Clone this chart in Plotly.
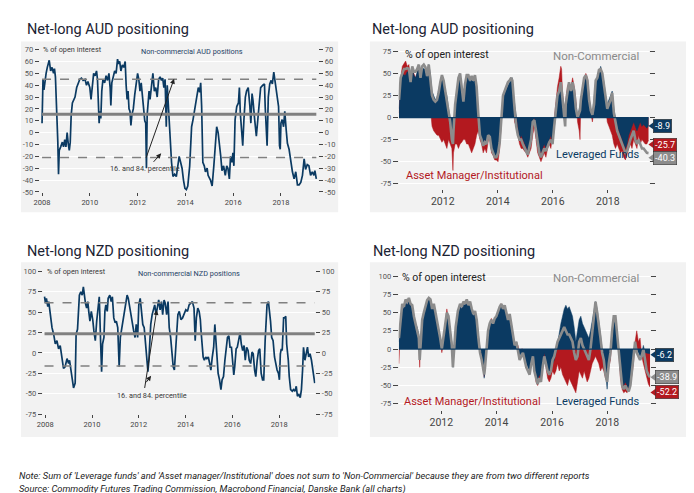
import plotly.graph_objects as go

# ---------------- DATA ----------------
# Top-left: Non-commercial AUD positions (% of open interest)
aud_nc_years = [2008.00, 2008.04, 2008.08, 2008.12, 2008.17, 2008.22, 2008.30, 2008.36, 2008.42, 2008.48,
                2008.52, 2008.56, 2008.60, 2008.63, 2008.66, 2008.69, 2008.72, 2008.78, 2008.85, 2008.90,
                2008.95, 2009.00, 2009.05, 2009.10, 2009.14, 2009.18, 2009.22, 2009.27, 2009.32, 2009.38,
                2009.45, 2009.52, 2009.58, 2009.65, 2009.72, 2009.80, 2009.86, 2009.92, 2010.00, 2010.05,
                2010.10, 2010.16, 2010.22, 2010.28, 2010.32, 2010.36, 2010.39, 2010.42, 2010.46, 2010.50,
                2010.55, 2010.62, 2010.68, 2010.74, 2010.80, 2010.85, 2010.88, 2010.92, 2010.98, 2011.04,
                2011.10, 2011.16, 2011.20, 2011.25, 2011.30, 2011.36, 2011.42, 2011.48, 2011.52, 2011.56,
                2011.60, 2011.64, 2011.68, 2011.72, 2011.76, 2011.82, 2011.88, 2011.94, 2012.00, 2012.05,
                2012.10, 2012.15, 2012.20, 2012.25, 2012.30, 2012.34, 2012.37, 2012.40, 2012.44, 2012.48,
                2012.52, 2012.58, 2012.64, 2012.70, 2012.76, 2012.82, 2012.88, 2012.94, 2013.00, 2013.05,
                2013.10, 2013.15, 2013.20, 2013.24, 2013.30, 2013.36, 2013.42, 2013.48, 2013.55, 2013.62,
                2013.68, 2013.74, 2013.80, 2013.86, 2013.92, 2013.98, 2014.04, 2014.10, 2014.18, 2014.22,
                2014.26, 2014.32, 2014.37, 2014.43, 2014.49, 2014.54, 2014.60, 2014.64, 2014.68, 2014.73,
                2014.79, 2014.84, 2014.91, 2014.95, 2015.05, 2015.12, 2015.19, 2015.26, 2015.31, 2015.37,
                2015.42, 2015.48, 2015.53, 2015.60, 2015.67, 2015.73, 2015.78, 2015.84, 2015.89, 2015.95,
                2015.99, 2016.03, 2016.08, 2016.15, 2016.22, 2016.26, 2016.30, 2016.36, 2016.40, 2016.45,
                2016.51, 2016.56, 2016.63, 2016.70, 2016.74, 2016.79, 2016.83, 2016.90, 2016.97, 2017.04,
                2017.11, 2017.15, 2017.24, 2017.31, 2017.34, 2017.38, 2017.42, 2017.47, 2017.53, 2017.59,
                2017.64, 2017.70, 2017.75, 2017.81, 2017.86, 2017.90, 2017.94, 2017.97, 2018.00, 2018.05,
                2018.11, 2018.16, 2018.22, 2018.27, 2018.34, 2018.41, 2018.48, 2018.55, 2018.62, 2018.69,
                2018.76, 2018.83, 2018.90, 2018.97, 2019.03, 2019.10, 2019.17, 2019.24, 2019.31, 2019.38,
                2019.42, 2019.48]
aud_nc_values = [8, 45, 36, 45, 50, 55, 61, 52, 55, 50,
                 54, 47, 30, 10, -8, -35, -15, -12, -8, -12,
                 -6, -12, 0, -10, -15, -8, 15, 25, 28, 30,
                 38, 42, 45, 46, 44, 45, 40, 43, 38, 28,
                 40, 50, 48, 52, 45, 20, 8, 18, 12, 35,
                 45, 42, 48, 44, 50, 38, 23, 42, 48, 52,
                 50, 62, 58, 60, 52, 57, 55, 60, 40, 28,
                 35, 20, 18, 6, 15, 20, 32, 44, 50, 45,
                 35, 42, 30, 18, 10, 8, -30, 15, 25, 35,
                 28, 42, 50, 35, 38, 30, 45, 47, 44, 46,
                 38, 45, 5, 40, 20, -10, -25, -37, -35, -37,
                 -30, -20, -25, -30, -40, -47, -48, -45, -28, -11,
                 5, 11, 18, 27, 35, 38, 34, 42, 22, -25,
                 -28, -33, -30, -36, -40, -45, -28, -9, 5, 0,
                 -8, -20, -32, -28, -36, -28, -30, -39, -20, -25,
                 -17, -28, 11, 22, 25, 38, 16, -3, -11, 11,
                 30, 35, 38, 22, 8, 33, 27, 11, -3, 13,
                 27, 38, 40, 41, 22, 8, -11, 30, 41, 44,
                 41, 51, 44, 36, 29, 22, -11, -14, 8, 11,
                 5, 18, 2, -9, -14, -25, -33, -39, -33, -44,
                 -44, -42, -36, -22, -31, -27, -28, -36, -33, -36,
                 -32, -39]
aud_mean, aud_p84, aud_p16 = 15.5, 45, -21

# Bottom-left: Non-commercial NZD positions (% of open interest)
nzd_nc_years = [2007.97, 2008.01, 2008.05, 2008.11, 2008.15, 2008.22, 2008.29, 2008.36, 2008.43, 2008.50,
                2008.57, 2008.64, 2008.71, 2008.78, 2008.85, 2008.93, 2009.00, 2009.04, 2009.10, 2009.15,
                2009.21, 2009.28, 2009.32, 2009.38, 2009.42, 2009.46, 2009.52, 2009.58, 2009.63, 2009.67,
                2009.72, 2009.77, 2009.82, 2009.86, 2009.91, 2009.97, 2010.03, 2010.08, 2010.14, 2010.20,
                2010.25, 2010.31, 2010.37, 2010.41, 2010.45, 2010.51, 2010.55, 2010.59, 2010.65, 2010.69,
                2010.76, 2010.82, 2010.87, 2010.93, 2010.99, 2011.04, 2011.10, 2011.16, 2011.21, 2011.27,
                2011.33, 2011.38, 2011.44, 2011.50, 2011.55, 2011.61, 2011.67, 2011.72, 2011.78, 2011.84,
                2011.89, 2011.95, 2012.00, 2012.06, 2012.12, 2012.17, 2012.23, 2012.29, 2012.34, 2012.39,
                2012.43, 2012.47, 2012.51, 2012.57, 2012.63, 2012.68, 2012.74, 2012.80, 2012.85, 2012.91,
                2012.97, 2013.02, 2013.08, 2013.13, 2013.19, 2013.25, 2013.30, 2013.36, 2013.42, 2013.47,
                2013.52, 2013.56, 2013.61, 2013.67, 2013.73, 2013.80, 2013.87, 2013.94, 2014.01, 2014.08,
                2014.15, 2014.22, 2014.29, 2014.36, 2014.41, 2014.46, 2014.52, 2014.58, 2014.63, 2014.66,
                2014.69, 2014.75, 2014.80, 2014.86, 2014.91, 2014.97, 2015.03, 2015.08, 2015.14, 2015.20,
                2015.25, 2015.30, 2015.34, 2015.39, 2015.45, 2015.51, 2015.56, 2015.62, 2015.68, 2015.73,
                2015.79, 2015.85, 2015.90, 2015.96, 2016.02, 2016.06, 2016.10, 2016.16, 2016.21, 2016.27,
                2016.33, 2016.38, 2016.44, 2016.50, 2016.55, 2016.61, 2016.67, 2016.72, 2016.78, 2016.84,
                2016.89, 2016.95, 2017.00, 2017.06, 2017.12, 2017.17, 2017.23, 2017.29, 2017.34, 2017.40,
                2017.44, 2017.48, 2017.54, 2017.58, 2017.63, 2017.68, 2017.74, 2017.80, 2017.85, 2017.91,
                2017.97, 2018.01, 2018.05, 2018.09, 2018.13, 2018.19, 2018.23, 2018.28, 2018.32, 2018.36,
                2018.39, 2018.43, 2018.49, 2018.56, 2018.61, 2018.67, 2018.73, 2018.78, 2018.84, 2018.90,
                2018.95, 2019.00, 2019.04, 2019.10, 2019.15, 2019.21, 2019.26, 2019.32, 2019.38, 2019.42,
                2019.46, 2019.52]
nzd_nc_values = [69, 61, 67, 57, 63, 47, 31, 23, 11, 15,
                 5, 9, -9, -19, -17, -7, -13, -9, -21, -29,
                 -43, -37, 23, 29, 47, 71, 75, 71, 81, 71,
                 61, 55, 63, 51, 39, 51, 41, 27, 15, 39,
                 57, 69, 11, -23, 11, 19, 51, 59, 51, 67,
                 71, 63, 69, 43, 37, 39, 31, -17, 19, 31,
                 43, 51, 63, 71, 67, 55, 43, 37, 27, 19,
                 35, 19, 59, 67, 51, 35, 31, 11, -1, -23,
                 -9, 19, 35, 47, 55, 59, 47, 59, 65, 53,
                 63, 47, 65, 61, 47, 63, 31, 19, -1, -17,
                 -21, -5, 15, 47, 51, 41, 43, 47, 53, 51,
                 59, 61, 63, 55, 15, 43, 55, 51, 41, 27,
                 11, -5, -9, -5, -7, -5, -13, -21, -5, 7,
                 35, 15, -9, -25, -33, -45, -33, -29, -9, 7,
                 19, 21, 7, 7, -9, -27, -17, 5, 7, 19,
                 25, 11, 3, 9, -9, 7, 3, -9, -13, 1,
                 -1, -21, -29, -9, 3, 5, -25, -33, -33, 15,
                 43, 59, 63, 55, 39, 19, 15, -5, -13, -21,
                 -25, -33, -1, 5, 3, 43, 43, 45, 11, 3,
                 -9, -29, -45, -47, -45, -47, -41, -53, -51, -55,
                 -45, -21, 7, -9, -1, 7, -5, -1, -9, -21,
                 -25, -37]
nzd_mean, nzd_p84, nzd_p16 = 23.5, 61.5, -16

# Top-right: AUD by trader type (% of open interest)
aud_tff_years = [2010.41, 2010.47, 2010.53, 2010.59, 2010.65, 2010.71, 2010.77, 2010.83, 2010.89, 2010.95,
                 2011.01, 2011.07, 2011.13, 2011.19, 2011.25, 2011.31, 2011.37, 2011.43, 2011.49, 2011.55,
                 2011.61, 2011.67, 2011.73, 2011.79, 2011.85, 2011.91, 2011.97, 2012.03, 2012.09, 2012.15,
                 2012.21, 2012.27, 2012.33, 2012.37, 2012.39, 2012.45, 2012.51, 2012.57, 2012.63, 2012.69,
                 2012.75, 2012.81, 2012.87, 2012.93, 2012.99, 2013.05, 2013.11, 2013.17, 2013.23, 2013.29,
                 2013.35, 2013.41, 2013.47, 2013.53, 2013.59, 2013.65, 2013.71, 2013.77, 2013.83, 2013.89,
                 2013.95, 2014.01, 2014.07, 2014.13, 2014.19, 2014.25, 2014.31, 2014.37, 2014.43, 2014.49,
                 2014.53, 2014.55, 2014.61, 2014.67, 2014.73, 2014.79, 2014.85, 2014.91, 2014.97, 2015.03,
                 2015.09, 2015.15, 2015.21, 2015.27, 2015.33, 2015.39, 2015.45, 2015.51, 2015.57, 2015.63,
                 2015.69, 2015.75, 2015.81, 2015.87, 2015.93, 2015.99, 2016.05, 2016.11, 2016.17, 2016.23,
                 2016.29, 2016.32, 2016.35, 2016.41, 2016.45, 2016.47, 2016.53, 2016.59, 2016.66, 2016.72,
                 2016.78, 2016.84, 2016.90, 2016.96, 2016.99, 2017.02, 2017.08, 2017.14, 2017.20, 2017.26,
                 2017.32, 2017.38, 2017.44, 2017.50, 2017.56, 2017.62, 2017.68, 2017.74, 2017.80, 2017.86,
                 2017.92, 2017.98, 2018.04, 2018.10, 2018.16, 2018.22, 2018.28, 2018.34, 2018.40, 2018.46,
                 2018.52, 2018.58, 2018.64, 2018.70, 2018.76, 2018.82, 2018.88, 2018.94, 2019.00, 2019.06,
                 2019.12, 2019.18, 2019.24, 2019.30, 2019.36, 2019.42, 2019.48]
aud_lev = [10, 40, 50, 48, 48, 52, 50, 40, 55, 48,
           45, 52, 58, 50, 58, 55, 55, 45, 60, 50,
           30, 25, 20, 23, 30, 40, 48, 42, 30, 25,
           10, 0, -20, -25, -10, 15, 30, 40, 48, 35,
           20, 35, 45, 48, 40, 45, 40, 45, 30, 5,
           -20, -25, -30, -25, -30, -20, -22, -35, -40, -45,
           -45, -40, -30, 0, 20, 28, 32, 35, 40, 42,
           45, 30, 15, 0, -15, -25, -20, -25, -28, -35,
           -38, -30, -20, -5, 0, -10, -25, -35, -40, -35,
           -30, -35, -30, -25, -20, -30, -10, 5, 20, 30,
           35, 30, 25, 10, -5, 15, 25, 35, 30, 35,
           30, 15, 0, 10, 12, 20, 30, 40, 45, 40,
           20, 10, 5, 20, 40, 45, 50, 58, 50, 40,
           25, 15, 20, 25, 30, 10, 0, -10, -15, -20,
           -25, -30, -35, -30, -20, -15, -10, -5, -10, -15,
           -10, -5, -10, -8, -10, -12, -8.9]
aud_am = [5, 45, 58, 62, 64, 58, 60, 42, 55, 50,
          45, 50, 56, 48, 55, 52, 50, 40, 30, 10,
          -10, -15, -18, -20, -20, -25, -28, -25, -30, -35,
          -25, -30, -35, -60, -40, -30, -30, -35, -30, -28,
          -25, -25, -30, -30, -35, -40, -35, -30, -20, -15,
          -25, -30, -40, -35, -40, -25, -15, -40, -43, -48,
          -48, -50, -35, -5, 18, 28, 30, 35, 38, 40,
          38, 28, -5, -10, -20, -30, -35, -35, -38, -40,
          -45, -40, -35, -20, -10, -25, -40, -45, -50, -45,
          -40, -45, -35, -30, -35, -20, 0, 20, 35, 45,
          58, 55, 30, 10, -5, 20, 35, 40, 35, 45,
          35, 20, -5, -15, -25, 15, 35, 40, 50, 45,
          25, 5, -5, 10, 40, 42, 45, 50, 45, 30,
          10, -5, -10, -15, -20, -30, -35, -30, -35, -40,
          -38, -45, -48, -40, -35, -30, -35, -25, -30, -35,
          -20, -30, -25, -28, -30, -30, -25.7]
aud_nc2 = [20, 45, 50, 55, 55, 56, 55, 40, 58, 52,
           52, 55, 60, 45, 58, 60, 57, 47, 60, 45,
           25, 20, 18, 20, 28, 40, 48, 42, 30, 22,
           8, -5, -25, -30, -15, 15, 30, 45, 50, 30,
           18, 38, 48, 48, 42, 47, 42, 48, 35, 5,
           -20, -25, -32, -28, -30, -20, -22, -35, -40, -45,
           -45, -40, -28, 0, 25, 30, 35, 40, 42, 45,
           42, 30, 10, -10, -20, -25, -25, -30, -35, -38,
           -42, -35, -25, -5, -3, -15, -30, -40, -45, -40,
           -35, -38, -32, -28, -25, -30, -10, 10, 25, 30,
           40, 32, 20, 5, -10, 15, 28, 40, 30, 40,
           30, 10, 0, 5, 8, 20, 35, 45, 48, 42,
           20, 8, 3, 15, 42, 45, 54, 55, 50, 35,
           20, 10, 15, 20, 28, 5, -5, -15, -20, -25,
           -30, -35, -40, -38, -30, -25, -20, -15, -25, -30,
           -25, -30, -35, -35, -38, -40, -40.3]

# Bottom-right: NZD by trader type (% of open interest)
nzd_tff_years = [2010.47, 2010.53, 2010.59, 2010.65, 2010.71, 2010.77, 2010.83, 2010.89, 2010.95, 2011.01,
                 2011.07, 2011.13, 2011.19, 2011.22, 2011.26, 2011.31, 2011.37, 2011.43, 2011.49, 2011.55,
                 2011.61, 2011.67, 2011.73, 2011.79, 2011.84, 2011.90, 2011.96, 2012.02, 2012.08, 2012.14,
                 2012.20, 2012.26, 2012.32, 2012.38, 2012.42, 2012.47, 2012.52, 2012.60, 2012.68, 2012.74,
                 2012.80, 2012.86, 2012.92, 2012.98, 2013.04, 2013.10, 2013.16, 2013.22, 2013.28, 2013.34,
                 2013.40, 2013.46, 2013.52, 2013.55, 2013.58, 2013.63, 2013.69, 2013.75, 2013.81, 2013.87,
                 2013.93, 2013.99, 2014.05, 2014.11, 2014.17, 2014.23, 2014.29, 2014.35, 2014.41, 2014.47,
                 2014.53, 2014.59, 2014.65, 2014.71, 2014.77, 2014.83, 2014.89, 2014.95, 2015.01, 2015.07,
                 2015.13, 2015.19, 2015.25, 2015.31, 2015.36, 2015.42, 2015.48, 2015.54, 2015.60, 2015.66,
                 2015.72, 2015.78, 2015.84, 2015.90, 2015.96, 2016.02, 2016.08, 2016.14, 2016.20, 2016.26,
                 2016.32, 2016.38, 2016.44, 2016.50, 2016.56, 2016.62, 2016.68, 2016.74, 2016.80, 2016.86,
                 2016.92, 2016.98, 2017.04, 2017.10, 2017.16, 2017.22, 2017.27, 2017.33, 2017.39, 2017.45,
                 2017.51, 2017.57, 2017.63, 2017.69, 2017.75, 2017.81, 2017.87, 2017.93, 2017.99, 2018.05,
                 2018.11, 2018.17, 2018.23, 2018.29, 2018.35, 2018.41, 2018.47, 2018.53, 2018.59, 2018.65,
                 2018.71, 2018.77, 2018.83, 2018.89, 2018.94, 2019.00, 2019.06, 2019.12, 2019.18, 2019.24,
                 2019.30, 2019.36, 2019.42, 2019.48, 2019.54]
nzd_lev = [10, 40, 60, 55, 65, 60, 68, 60, 55, 45,
           35, 30, 20, -5, 10, 40, 50, 55, 65, 68,
           65, 55, 60, 50, 40, 30, 15, 2, 10, 30,
           45, 40, 25, 10, -25, 0, 30, 50, 60, 55,
           62, 60, 65, 60, 62, 55, 45, 50, 40, 20,
           0, -10, -25, -40, -20, 0, 20, 30, 40, 35,
           40, 45, 50, 55, 60, 55, 58, 50, 40, 45,
           35, 20, 5, 10, 0, -10, -5, -10, -15, -20,
           -25, -30, -20, -10, -30, -40, -45, -35, -40, -20,
           -5, -15, -30, -35, -30, -20, -15, -5, 10, 20,
           35, 45, 55, 60, 55, 58, 50, 45, 30, 10,
           25, 40, 45, 35, 30, 25, 20, 15, 25, 40,
           55, 65, 55, 40, 20, 0, -10, -30, -55, -20,
           -5, 20, 35, 40, 20, 0, -30, -45, -50, -45,
           -50, -55, -50, -25, -5, 5, 0, -5, -10, -5,
           5, -5, -5, -6, -6.2]
nzd_am = [-20, 38, 58, 52, 62, 60, 66, 58, 52, 45,
          30, 25, 15, -25, 8, 42, 48, 55, 62, 66,
          64, 52, 58, 48, 38, 28, 12, -5, 8, 28,
          55, 42, 22, 8, -22, -2, 28, 48, 58, 54,
          60, 58, 68, 58, 60, 52, 44, 48, 38, 18,
          -3, -12, -28, -38, -22, 2, 22, 32, 42, 33,
          38, 44, 52, 54, 62, 54, 56, 48, 42, 44,
          34, 18, 4, 8, 5, -5, 0, 0, -5, -5,
          -8, -10, -8, -5, -20, -45, -50, -40, -42, -25,
          -10, -25, -40, -45, -40, -30, -35, -30, -20, -30,
          -25, -35, -40, -45, -50, -40, -45, -50, -55, -60,
          -45, -30, -35, -40, -30, -40, -45, -40, -30, -20,
          -15, -10, -15, -20, -30, -25, -30, -40, -45, -25,
          -15, 15, 30, 35, 15, -5, -40, -55, -60, -58,
          -60, -55, -45, -35, -20, 10, 25, 10, 15, -10,
          -20, -30, -40, -48, -52.2]
nzd_nc2 = [15, 45, 62, 58, 68, 65, 70, 62, 60, 45,
           35, 25, 15, -15, 5, 40, 50, 58, 67, 70,
           68, 55, 62, 50, 40, 30, 15, 0, 15, 35,
           50, 45, 20, 5, -25, 0, 30, 52, 62, 58,
           65, 62, 68, 60, 65, 55, 48, 52, 40, 15,
           -5, -15, -30, -35, -25, 5, 25, 35, 40, 35,
           42, 45, 52, 58, 62, 55, 60, 50, 40, 48,
           35, 20, 5, 10, -5, -15, -10, -5, -15, -25,
           -30, -35, -20, -10, -30, -40, -48, -40, -45, -25,
           -10, -20, -30, -35, -30, -15, -10, 0, 10, 15,
           20, 25, 30, 25, 20, 20, 15, 10, -5, -15,
           -10, 10, 15, 5, 0, -5, -10, -15, 0, 20,
           45, 65, 50, 35, 15, -5, -15, -35, -45, -20,
           -5, 25, 45, 45, 20, 0, -30, -50, -55, -50,
           -55, -58, -50, -30, -10, 10, -5, -10, -15, -10,
           0, -15, -30, -35, -38.9]

left_ticks = [2008, 2010, 2012, 2014, 2016, 2018]
right_ticks = [2012, 2014, 2016, 2018]
tl_y = list(range(-50, 71, 10))
bl_y = list(range(-75, 101, 25))
tr_y = list(range(-75, 76, 25))
br_y = list(range(-75, 101, 25))

# ---------------- STYLE ----------------
W, H = 694, 493
def px(x): return x / W
def py(y): return 1 - y / H

NAVY = '#0b3a62'
RED = '#b3191f'
GRAY = '#8c8c8c'
REFGRAY = '#808080'
BG = '#f2f2f2'
TXT = '#3a3a3a'
TITLE = '#1c2333'
FONT = 'Roboto, Lato, sans-serif'

fig = go.Figure()

# Top-left
fig.add_trace(go.Scatter(x=aud_nc_years, y=aud_nc_values, mode='lines',
                         line=dict(color=NAVY, width=1.7), xaxis='x', yaxis='y', showlegend=False))
x0, x1 = aud_nc_years[0], aud_nc_years[-1]
for val, w, d in [(aud_mean, 3, 'solid'), (aud_p84, 1.5, 'dash'), (aud_p16, 1.5, 'dash')]:
    fig.add_trace(go.Scatter(x=[x0, x1], y=[val, val], mode='lines',
                             line=dict(color=REFGRAY, width=w, dash=d), xaxis='x', yaxis='y5', showlegend=False))

# Bottom-left
fig.add_trace(go.Scatter(x=nzd_nc_years, y=nzd_nc_values, mode='lines',
                         line=dict(color=NAVY, width=1.7), xaxis='x3', yaxis='y3', showlegend=False))
x0, x1 = nzd_nc_years[0], nzd_nc_years[-1]
for val, w, d in [(nzd_mean, 3, 'solid'), (nzd_p84, 1.5, 'dash'), (nzd_p16, 1.5, 'dash')]:
    fig.add_trace(go.Scatter(x=[x0, x1], y=[val, val], mode='lines',
                             line=dict(color=REFGRAY, width=w, dash=d), xaxis='x3', yaxis='y6', showlegend=False))

# Top-right
fig.add_trace(go.Scatter(x=aud_tff_years, y=aud_am, mode='lines', fill='tozeroy', fillcolor=RED,
                         line=dict(color=RED, width=0.5), xaxis='x2', yaxis='y2', showlegend=False))
fig.add_trace(go.Scatter(x=aud_tff_years, y=aud_lev, mode='lines', fill='tozeroy', fillcolor=NAVY,
                         line=dict(color=NAVY, width=0.5), xaxis='x2', yaxis='y2', showlegend=False))
fig.add_trace(go.Scatter(x=aud_tff_years, y=aud_nc2, mode='lines',
                         line=dict(color=GRAY, width=2.6), xaxis='x2', yaxis='y7', showlegend=False))

# Bottom-right
fig.add_trace(go.Scatter(x=nzd_tff_years, y=nzd_am, mode='lines', fill='tozeroy', fillcolor=RED,
                         line=dict(color=RED, width=0.5), xaxis='x4', yaxis='y4', showlegend=False))
fig.add_trace(go.Scatter(x=nzd_tff_years, y=nzd_lev, mode='lines', fill='tozeroy', fillcolor=NAVY,
                         line=dict(color=NAVY, width=0.5), xaxis='x4', yaxis='y4', showlegend=False))
fig.add_trace(go.Scatter(x=nzd_tff_years, y=nzd_nc2, mode='lines',
                         line=dict(color=GRAY, width=2.6), xaxis='x4', yaxis='y8', showlegend=False))


def hy(v):
    return str(v).replace('−', '-')

def xax(dom, rng, anchor, ticks, size):
    return dict(domain=dom, range=rng, anchor=anchor, tickvals=ticks, ticktext=[str(t) for t in ticks],
                ticks='outside', ticklen=3, tickcolor='#444', showgrid=False, zeroline=False,
                showline=False, tickfont=dict(family=FONT, size=size, color='#444'), fixedrange=True)

def yax(dom, rng, anchor, tickvals, size, ticklen):
    return dict(domain=dom, range=rng, anchor=anchor, tickvals=tickvals, ticktext=[hy(v) for v in tickvals],
                ticks='outside', ticklen=ticklen,
                tickcolor='#444', showgrid=True, gridcolor='white', gridwidth=1, zeroline=False,
                showline=False, tickfont=dict(family=FONT, size=size, color='#555'), fixedrange=True)

def yover(base, rng, anchor, tickvals, size, ticklen, labels=True):
    return dict(overlaying=base, side='right', range=rng, anchor=anchor, tickvals=tickvals,
                ticktext=[hy(v) for v in tickvals],
                ticks='outside', ticklen=ticklen, tickcolor='#444', showgrid=False, zeroline=False,
                showline=False, showticklabels=labels,
                tickfont=dict(family=FONT, size=size, color='#555'), fixedrange=True)

fig.update_layout(
    width=W, height=H, margin=dict(l=0, r=0, t=0, b=0),
    paper_bgcolor='white', plot_bgcolor='rgba(0,0,0,0)',
    xaxis=xax([px(26), px(307)], [2007.905, 2019.565], 'y', left_ticks, 7.5),
    yaxis=yax([py(183.3), py(38.3)], [-50, 70], 'x', tl_y, 7.5, 4),
    yaxis5=yover('y', [-50, 70], 'x', tl_y, 7.5, 4),
    xaxis2=xax([px(388), px(641)], [2010.396, 2019.514], 'y2', right_ticks, 10.5),
    yaxis2=yax([py(180), py(35)], [-80.6, 80.6], 'x2', tr_y, 7.5, 5),
    yaxis7=yover('y2', [-80.6, 80.6], 'x2', tr_y, 7.5, 5, labels=False),
    xaxis3=xax([px(29), px(304)], [2007.894, 2019.547], 'y3', left_ticks, 7.5),
    yaxis3=yax([py(409.5), py(264.3)], [-75, 100], 'x3', bl_y, 7.5, 4),
    yaxis6=yover('y3', [-75, 100], 'x3', bl_y, 7.5, 4),
    xaxis4=xax([px(388), px(642)], [2010.46, 2019.555], 'y4', right_ticks, 10.5),
    yaxis4=yax([py(405), py(262)], [-83, 109.4], 'x4', br_y, 7.5, 5),
    yaxis8=yover('y4', [-83, 109.4], 'x4', br_y, 7.5, 5, labels=False),
)

shapes = []
for (a, b, c, d) in [(7, 30, 327, 204), (359, 30, 679, 204), (7, 255, 327, 433), (359, 255, 680, 433)]:
    shapes.append(dict(type='rect', xref='paper', yref='paper', x0=px(a), x1=px(c), y0=py(d), y1=py(b),
                       fillcolor=BG, line=dict(width=0), layer='below'))
shapes.append(dict(type='line', xref='x2', yref='y2', x0=aud_tff_years[0], x1=aud_tff_years[-1], y0=0, y1=0,
                   line=dict(color=NAVY, width=1.2), layer='above'))
shapes.append(dict(type='line', xref='x4', yref='y4', x0=nzd_tff_years[0], x1=nzd_tff_years[-1], y0=0, y1=0,
                   line=dict(color=NAVY, width=1.2), layer='above'))

ann = []
def text(x, y, s, size, color, xanchor='left', italic=False):
    ann.append(dict(xref='paper', yref='paper', x=px(x), y=py(y), text=s, showarrow=False,
                    xanchor=xanchor, yanchor='middle',
                    font=dict(family=FONT, size=size, color=color, style='italic' if italic else 'normal')))

text(11, 18, 'Net-long AUD positioning', 14.5, TITLE)
text(359, 18, 'Net-long AUD positioning', 14.5, TITLE)
text(11, 244, 'Net-long NZD positioning', 14.5, TITLE)
text(360, 244, 'Net-long NZD positioning', 14.5, TITLE)

text(27, 38.5, '% of open interest', 7.3, TXT)
text(180, 40, 'Non-commercial AUD positions', 7.3, '#1f3f66', xanchor='center')
text(132, 159, '16. and 84. percentile', 7.3, TXT, xanchor='center')
text(31, 264.5, '% of open interest', 7.3, TXT)
text(177, 266.5, 'Non-commercial NZD positions', 7.3, '#1f3f66', xanchor='center')
text(139, 391, '16. and 84. percentile', 7.3, TXT, xanchor='center')

for (hx, hy_, tx, ty) in [(161.5, 68, 133, 148.5), (148.5, 144, 139.5, 154),
                          (144, 303.5, 131.7, 383), (138.3, 370.5, 132.3, 378.5)]:
    ann.append(dict(xref='paper', yref='paper', x=px(hx), y=py(hy_), ax=tx - hx, ay=ty - hy_,
                    axref='pixel', ayref='pixel', text='', showarrow=True, arrowhead=2,
                    arrowsize=1, arrowwidth=1, arrowcolor='#222'))

text(392, 43, '% of open interest', 10.5, '#222')
text(632, 45, 'Non-Commercial', 11.5, '#8a8a8a', xanchor='right')
text(393, 167, 'Asset Manager/Institutional', 11, RED)
text(633, 145, 'Leveraged Funds', 11, NAVY, xanchor='right')

text(389, 270, '% of open interest', 10.5, '#222')
text(632, 271, 'Non-Commercial', 11.5, '#8a8a8a', xanchor='right')
text(391, 397, 'Asset Manager/Institutional', 11, RED)
text(633, 397, 'Leveraged Funds', 11, NAVY, xanchor='right')

def box(x, y, val, color):
    ann.append(dict(xref='paper', yref='paper', x=px(x), y=py(y), text=f'{val:.1f}', showarrow=False,
                    xanchor='left', yanchor='middle', bgcolor=color, borderpad=1.5,
                    bordercolor='#333', borderwidth=0.6,
                    font=dict(family=FONT, size=9, color='white')))
    shapes.append(dict(type='path', xref='paper', yref='paper',
                       path=f'M {px(x-5)} {py(y)} L {px(x+0.5)} {py(y-4)} L {px(x+0.5)} {py(y+4)} Z',
                       fillcolor=color, line=dict(width=0), layer='above'))

box(645, 116, aud_lev[-1], NAVY)
box(645, 135, aud_am[-1], RED)
box(645, 148.5, aud_nc2[-1], GRAY)
box(647, 349, nzd_lev[-1], NAVY)
box(647, 372, nzd_nc2[-1], GRAY)
box(647, 387.5, nzd_am[-1], RED)

text(3, 472.5, "Note: Sum of 'Leverage funds' and 'Asset manager/Institutional' does not sum to 'Non-Commercial' because they are from two different reports", 9.3, '#222', italic=True)
text(3, 485.5, 'Source: Commodity Futures Trading Commission, Macrobond Financial, Danske Bank (all charts)', 9.3, '#222', italic=True)

fig.update_layout(shapes=shapes, annotations=ann)
fig.write_html('out.html')
